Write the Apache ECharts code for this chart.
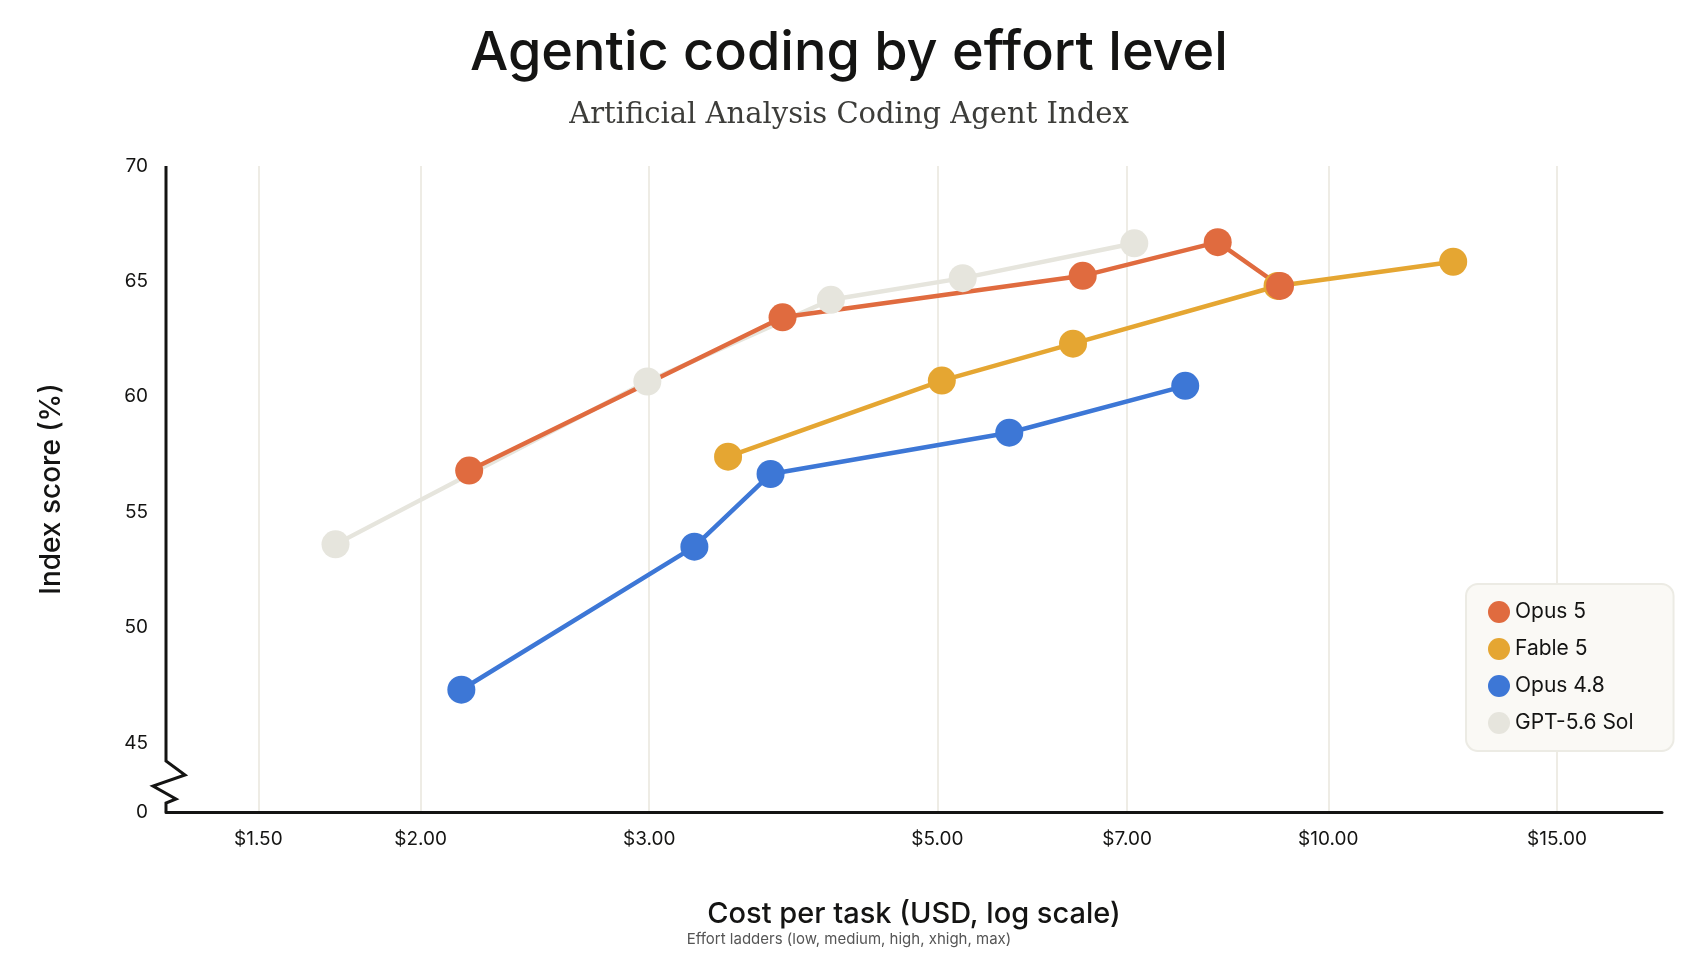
<!DOCTYPE html>
<html lang="en">
<head>
    <meta charset="utf-8">
    <title>Agentic coding by effort level</title>
    <script src="https://cdn.jsdelivr.net/npm/echarts@6/dist/echarts.min.js"></script>
    <style>html,body{margin:0;padding:0;background:#fff;}</style>
</head>
<body>
<div id="main" style="width: 1698px;height:954px;"></div>
<script type="text/javascript">
    var myChart = echarts.init(document.getElementById('main'));

    // [cost per task (USD), index score]
    var models = [
        { name: 'GPT-5.6 Sol', color: '#E6E5DD', data: [[1.72, 53.6], [2.99, 60.66], [4.14, 64.2], [5.23, 65.14], [7.09, 66.65]] },
        { name: 'Opus 4.8', color: '#3D77D6', data: [[2.15, 47.3], [3.25, 53.5], [3.72, 56.65], [5.68, 58.44], [7.76, 60.47]] },
        { name: 'Fable 5', color: '#E5A632', data: [[3.45, 57.4], [5.04, 60.7], [6.36, 62.3], [9.14, 64.8], [12.48, 65.85]] },
        { name: 'Opus 5', color: '#E06B3F', data: [[2.18, 56.8], [3.80, 63.44], [6.47, 65.24], [8.22, 66.7], [9.18, 64.8]] }
    ];
    var xTicks = [1.5, 2, 3, 5, 7, 10, 15];
    var font = 'Inter, "Noto Sans", sans-serif';

    var series = models.map(function (m) {
        return {
            name: m.name,
            type: 'line',
            data: m.data.map(function (d) { return [Math.log10(d[0]), d[1]]; }),
            symbol: 'circle',
            symbolSize: 28,
            lineStyle: { color: m.color, width: 4.5 },
            itemStyle: { color: m.color },
            emphasis: { disabled: true },
            z: 3
        };
    });

    var option = {
        backgroundColor: '#fff',
        animation: false,
        title: [{
            text: 'Agentic coding by effort level',
            left: 'center', top: 22,
            textStyle: { fontFamily: font, fontSize: 54, fontWeight: 500, color: '#141413' }
        }, {
            text: 'Artificial Analysis Coding Agent Index',
            left: 'center', top: 96,
            textStyle: { fontFamily: '"DejaVu Serif", serif', fontSize: 29, fontWeight: 'normal', color: '#3d3d3a' }
        }, {
            text: 'Effort ladders (low, medium, high, xhigh, max)',
            left: 'center', top: 927,
            textStyle: { fontFamily: font, fontSize: 15, fontWeight: 'normal', color: '#555' }
        }],
        legend: {
            data: ['Opus 5', 'Fable 5', 'Opus 4.8', 'GPT-5.6 Sol'],
            orient: 'vertical',
            left: 1466, top: 584,
            width: 196,
            padding: [17, 40, 17, 22],
            itemGap: 15,
            itemWidth: 22, itemHeight: 22,
            icon: 'circle',
            backgroundColor: '#FAF9F5',
            borderColor: '#ECEBE4', borderWidth: 2, borderRadius: 12,
            textStyle: { fontFamily: font, fontSize: 21, color: '#141413' }
        },
        grid: { left: 166, right: 36, top: 166, bottom: 142 },
        xAxis: {
            type: 'value',
            min: 0.105, max: 1.257,
            name: 'Cost per task (USD, log scale)',
            nameLocation: 'middle', nameGap: 88,
            nameTextStyle: { fontFamily: font, fontSize: 29, fontWeight: 500, color: '#141413' },
            axisLine: { lineStyle: { color: '#141413', width: 3 } },
            axisTick: { show: false, customValues: xTicks.map(Math.log10) },
            axisLabel: {
                customValues: xTicks.map(Math.log10),
                margin: 18,
                fontFamily: font, fontSize: 19, color: '#141413',
                formatter: function (v) { return '$' + Math.pow(10, v).toFixed(2); }
            },
            splitLine: { show: true, lineStyle: { color: '#E8E6DC', width: 1.5 } }
        },
        yAxis: {
            type: 'value',
            min: 42, max: 70,
            name: 'Index score (%)',
            nameLocation: 'middle', nameGap: 100,
            nameTextStyle: { fontFamily: font, fontSize: 28, fontWeight: 500, color: '#141413' },
            axisLine: { show: false },
            axisTick: { show: false, customValues: [42, 45, 50, 55, 60, 65, 70] },
            axisLabel: {
                customValues: [42, 45, 50, 55, 60, 65, 70],
                margin: 18,
                fontFamily: font, fontSize: 19, color: '#141413',
                formatter: function (v) { return v === 42 ? '0' : String(v); }
            },
            splitLine: { show: false }
        },
        series: series
    };
    myChart.setOption(option);

    // y axis line with the zigzag break between 0 and 45
    var ax = myChart.convertToPixel({ gridIndex: 0 }, [0.105, 70]);
    var base = myChart.convertToPixel({ gridIndex: 0 }, [0.105, 42]);
    var x0 = ax[0], yTop = ax[1], yB = base[1];
    myChart.setOption({
        graphic: [{
            type: 'polyline',
            z: 10,
            shape: { points: [
                [x0, yTop], [x0, yB - 51], [x0 + 19, yB - 37], [x0 - 13, yB - 26],
                [x0 + 10, yB - 13], [x0, yB - 9], [x0, yB]
            ] },
            style: { stroke: '#141413', lineWidth: 3, fill: null }
        }]
    });
</script>
</body>
</html>
